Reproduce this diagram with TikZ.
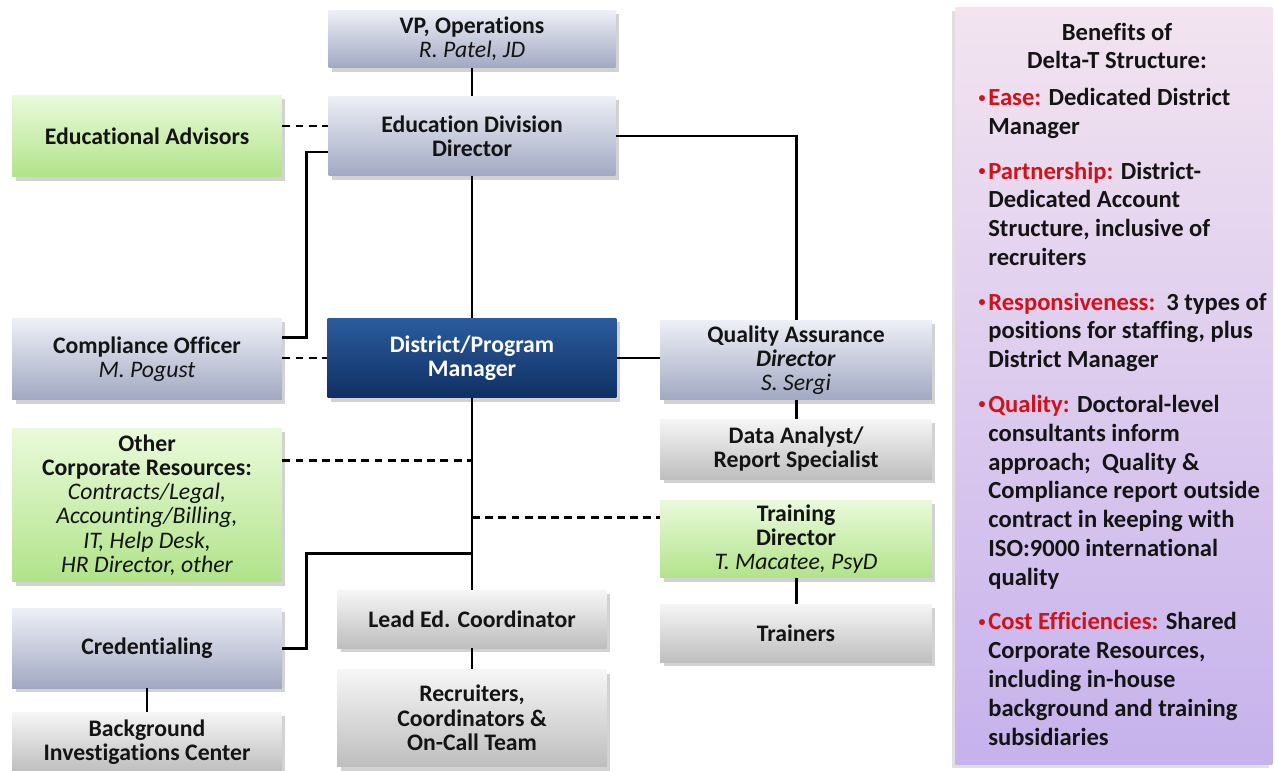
\documentclass[tikz,border=0pt]{standalone}
\usepackage{fontspec}
\setmainfont[Ligatures=NoCommon]{Carlito}
\usetikzlibrary{shadows}

\definecolor{boxtext}{HTML}{141414}
\definecolor{blueTop}{HTML}{EEF0F7}
\definecolor{blueBot}{HTML}{A1A8C2}
\definecolor{greenTop}{HTML}{EAFADB}
\definecolor{greenBot}{HTML}{B1E389}
\definecolor{greyTop}{HTML}{F6F6F6}
\definecolor{greyBot}{HTML}{BEBEBE}
\definecolor{mgrTop}{HTML}{2C5C9E}
\definecolor{mgrBot}{HTML}{0F2F63}
\definecolor{panelTop}{HTML}{F3E4F0}
\definecolor{panelBot}{HTML}{C6B2EC}
\definecolor{benred}{HTML}{D0121B}

\tikzstyle{box}=[rectangle,align=center,text=boxtext,inner sep=2pt,minimum width=5.4cm,
  font=\fontsize{13.5}{13.8}\selectfont\bfseries,
  drop shadow={shadow xshift=2pt,shadow yshift=-2.5pt,opacity=.35}]
\tikzstyle{blue box}=[box,top color=blueTop,bottom color=blueBot]
\tikzstyle{green box}=[box,top color=greenTop,bottom color=greenBot]
\tikzstyle{grey box}=[box,top color=greyTop,bottom color=greyBot]
\tikzstyle{mgr box}=[box,top color=mgrTop,bottom color=mgrBot,text=white]
\tikzstyle{line edge} = [draw,line width=1.7pt,-]
\tikzstyle{dash edge} = [draw,line width=1.7pt,dash pattern=on 4.5pt off 3pt,-]

\newcommand{\who}[1]{{\mdseries\itshape #1}}
\newcommand{\benefit}[1]{\llap{\textcolor{benred}{\raisebox{0.3ex}{\fontsize{8}{8}\selectfont\textbullet}}\hspace{1.5pt}}\textcolor{benred}{#1}}

\begin{document}
\begin{tikzpicture}[x=0.02cm,y=-0.02cm]
	\useasboundingbox[fill=white] (0,0) rectangle (1275,771);
	% top of the chart
	\node[blue box,minimum width=5.74cm,minimum height=1.16cm] (vp) at (472,39) {VP, Operations\\ \who{R. Patel, JD}};
	\node[blue box,minimum width=5.74cm,minimum height=1.6cm] (edd) at (472,136) {Education Division\\Director};
	\node[green box,minimum height=1.64cm] (ea) at (147,136) {Educational Advisors};
	\node[blue box,minimum height=1.64cm] (comp) at (147,359) {Compliance Officer\\ \who{M. Pogust}};
	\node[mgr box,minimum width=5.78cm,minimum height=1.6cm] (dpm) at (472,358) {District/Program\\Manager};
	\node[blue box,minimum width=5.44cm,minimum height=1.6cm] (qa) at (796,360) {Quality Assurance\\ \textit{Director}\\ \who{S. Sergi}};
	\node[grey box,minimum width=5.44cm,minimum height=1.2cm] (data) at (796,449) {Data Analyst/\\Report Specialist};
	% lower part
	\node[green box,minimum height=3.08cm] (other) at (147,505) {Other\\Corporate Resources:\\ \who{Contracts/Legal,}\\ \who{Accounting/Billing,}\\ \who{IT, Help Desk,}\\ \who{HR Director, other}};
	\node[green box,minimum width=5.44cm,minimum height=1.56cm] (train) at (796,539) {Training\\Director\\ \who{T. Macatee, PsyD}};
	\node[blue box,minimum height=1.6cm] (cred) at (147,648) {Credentialing};
	\node[grey box,minimum height=1.16cm] (lead) at (472,619) {Lead Ed. Coordinator};
	\node[grey box,minimum width=5.44cm,minimum height=1.16cm] (trainers) at (796,633) {Trainers};
	\node[grey box,minimum height=1.2cm] (bg) at (147,742) {Background\\Investigations Center};
	\node[grey box,minimum height=1.94cm] (recr) at (472,718) {Recruiters,\\Coordinators \&\\On-Call Team};
	% benefits panel
	\node[rectangle,top color=panelTop,bottom color=panelBot,minimum width=6.34cm,minimum height=15.16cm,
	  drop shadow={shadow xshift=-2pt,shadow yshift=-2pt,opacity=.25}] (panel) at (1114,386) {};
	\node[align=center,text=boxtext,font=\fontsize{14}{15.9}\selectfont\bfseries] (title) at (1117,46) {Benefits of\\Delta-T Structure:};
	\node[anchor=north west,align=left,inner sep=0pt,text=boxtext,
	  font=\fontsize{14}{16.4}\selectfont\bfseries] (list) at (988,88) {%
	  \benefit{Ease:} Dedicated District\\Manager\\[9pt]
	  \benefit{Partnership:} District-\\Dedicated Account\\Structure, inclusive of\\recruiters\\[9pt]
	  \benefit{Responsiveness:}\ \ 3 types of\\positions for staffing, plus\\District Manager\\[9pt]
	  \benefit{Quality:} Doctoral-level\\consultants inform\\approach;\ \ Quality \&\\Compliance report outside\\contract in keeping with\\ISO:9000 international\\quality\\[9pt]
	  \benefit{Cost Efficiencies:} Shared\\Corporate Resources,\\including in-house\\background and training\\subsidiaries};
	% join points on the manager's line
	\coordinate (eaout) at ([yshift=0.2cm]ea.east);
	\coordinate (compout) at ([yshift=0.44cm]comp.east);
	\coordinate (eddin) at ([yshift=-0.32cm]edd.west);
	\coordinate (otherout) at ([yshift=0.9cm]other.east);
	\coordinate (trainin) at ([yshift=0.44cm]train.west);
	\coordinate (credjoin) at (472,553);
	% Connect boxes with lines
	\foreach \source/ \dest in {vp/edd, edd/dpm, dpm/lead, lead/recr, qa/data, train/trainers, cred/bg}
	\path[line edge] (\source) to (\dest);
	\path[line edge] (compout) -- ++(24,0) |- (eddin);
	\path[line edge] (edd.east) -| (qa.north);
	\path[line edge] (dpm.east) -- (qa.west |- dpm.east);
	\path[line edge] (cred.east) -- ++(24,0) |- (credjoin);
	% dotted-line reports
	\path[dash edge] (eaout) -- (eaout -| edd.west);
	\path[dash edge] (comp.east |- dpm.west) -- (dpm.west);
	\path[dash edge] (otherout) -- (otherout -| dpm.south);
	\path[dash edge] (trainin -| dpm.south) -- (trainin);
\end{tikzpicture}
\end{document}
